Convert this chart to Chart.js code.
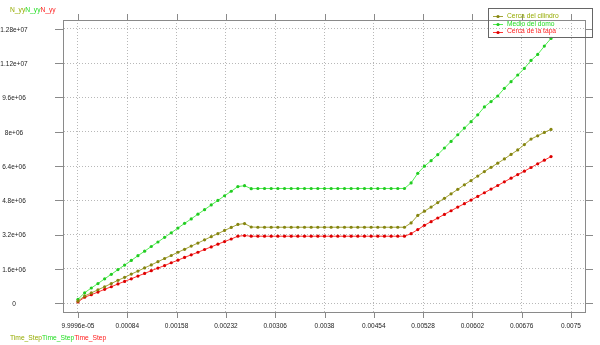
<!DOCTYPE html>
<html>
<head>
<meta charset="utf-8">
<script src="https://cdn.jsdelivr.net/npm/chart.js@4.4.1/dist/chart.umd.min.js"></script>
<style>
  html, body { margin: 0; padding: 0; background: #fff; }
  #wrap { width: 600px; height: 345px; }
</style>
</head>
<body>
<div id="wrap"><canvas id="chart" width="600" height="345"></canvas></div>
<script>
// time steps
const timeSteps = [
  0.0001, 0.0002, 0.0003, 0.0004, 0.0005, 0.0006, 0.0007, 0.0008, 0.0009, 0.0010,
  0.0011, 0.0012, 0.0013, 0.0014, 0.0015, 0.0016, 0.0017, 0.0018, 0.0019, 0.0020,
  0.0021, 0.0022, 0.0023, 0.0024, 0.0025, 0.0026, 0.0027, 0.0028, 0.0029, 0.0030,
  0.0031, 0.0032, 0.0033, 0.0034, 0.0035, 0.0036, 0.0037, 0.0038, 0.0039, 0.0040,
  0.0041, 0.0042, 0.0043, 0.0044, 0.0045, 0.0046, 0.0047, 0.0048, 0.0049, 0.0050,
  0.0051, 0.0052, 0.0053, 0.0054, 0.0055, 0.0056, 0.0057, 0.0058, 0.0059, 0.0060,
  0.0061, 0.0062, 0.0063, 0.0064, 0.0065, 0.0066, 0.0067, 0.0068, 0.0069, 0.0070,
  0.0071, 0.0072
];

// N_yy values, in millions
const cercaCilindro = [
  0.09, 0.33, 0.47, 0.62, 0.76, 0.91, 1.06, 1.20, 1.35, 1.49,
  1.64, 1.78, 1.93, 2.08, 2.22, 2.37, 2.51, 2.66, 2.80, 2.95,
  3.10, 3.24, 3.39, 3.53, 3.67, 3.71, 3.55, 3.54, 3.54, 3.54,
  3.54, 3.54, 3.54, 3.54, 3.54, 3.54, 3.54, 3.54, 3.54, 3.54,
  3.54, 3.54, 3.54, 3.54, 3.54, 3.54, 3.54, 3.54, 3.54, 3.54,
  3.74, 4.09, 4.29, 4.48, 4.69, 4.89, 5.10, 5.31, 5.52, 5.72,
  5.93, 6.14, 6.34, 6.53, 6.73, 6.94, 7.15, 7.40, 7.66, 7.81,
  7.97, 8.11
];
const medioDomo = [
  0.17, 0.48, 0.70, 0.91, 1.13, 1.34, 1.56, 1.77, 1.99, 2.21,
  2.42, 2.64, 2.85, 3.07, 3.28, 3.50, 3.72, 3.93, 4.15, 4.36,
  4.58, 4.79, 5.01, 5.22, 5.44, 5.48, 5.34, 5.35, 5.35, 5.35,
  5.35, 5.35, 5.35, 5.35, 5.35, 5.35, 5.35, 5.35, 5.35, 5.35,
  5.35, 5.35, 5.35, 5.35, 5.35, 5.35, 5.35, 5.35, 5.35, 5.35,
  5.61, 6.06, 6.39, 6.65, 6.93, 7.24, 7.55, 7.86, 8.17, 8.47,
  8.79, 9.16, 9.41, 9.67, 10.03, 10.34, 10.65, 10.96, 11.33, 11.61,
  12.00, 12.36
];
const cercaTapa = [
  0.05, 0.27, 0.39, 0.51, 0.64, 0.76, 0.89, 1.01, 1.13, 1.26,
  1.38, 1.51, 1.63, 1.75, 1.88, 2.00, 2.13, 2.25, 2.37, 2.50,
  2.62, 2.75, 2.87, 2.99, 3.12, 3.15, 3.12, 3.12, 3.12, 3.12,
  3.12, 3.12, 3.12, 3.12, 3.12, 3.12, 3.12, 3.12, 3.12, 3.12,
  3.12, 3.12, 3.12, 3.12, 3.12, 3.12, 3.12, 3.12, 3.12, 3.12,
  3.24, 3.43, 3.63, 3.80, 3.97, 4.14, 4.31, 4.48, 4.64, 4.81,
  4.98, 5.15, 5.32, 5.49, 5.66, 5.83, 6.00, 6.16, 6.33, 6.50,
  6.67, 6.84
];

const seriesNames = ['Cerca del cilindro', 'Medio del domo', 'Cerca de la tapa'];

const xTicks = [9.9996e-05, 0.00084, 0.00158, 0.00232, 0.00306, 0.0038, 0.00454, 0.00528, 0.00602, 0.00676, 0.0075];
const xLabels = ['9.9996e-05', '0.00084', '0.00158', '0.00232', '0.00306', '0.0038', '0.00454', '0.00528', '0.00602', '0.00676', '0.0075'];
const yTicks = [0, 1.6e6, 3.2e6, 4.8e6, 6.4e6, 8e6, 9.6e6, 1.12e7, 1.28e7];
const yLabels = ['0', '1.6e+06', '3.2e+06', '4.8e+06', '6.4e+06', '8e+06', '9.6e+06', '1.12e+07', '1.28e+07'];

const lineColors = ['#a3a33a', '#55ee55', '#ff3333'];
const pointColors = ['#858510', '#22cc22', '#dd0000'];
const textColors = ['#95ab00', '#22dd22', '#ff2020'];
const FONT = '6.7px "Liberation Sans", Arial, sans-serif';
const TICKFONT = '6.5px "Liberation Sans", Arial, sans-serif';

function toPoints(vals) {
  return timeSteps.map((t, i) => ({ x: t, y: vals[i] * 1e6 }));
}

const allSeries = [cercaCilindro, medioDomo, cercaTapa];

const framePlugin = {
  id: 'frame',
  afterDraw(chart) {
    const ctx = chart.ctx;
    const a = chart.chartArea;
    const xs = chart.scales.x, ys = chart.scales.y;
    ctx.save();

    // frame
    ctx.strokeStyle = '#8a8a8a';
    ctx.lineWidth = 1;
    ctx.strokeRect(Math.round(a.left) - 0.5, Math.round(a.top) + 0.5, Math.round(a.right - a.left), Math.round(a.bottom - a.top));

    // tick marks
    ctx.beginPath();
    xTicks.forEach(v => {
      const px = Math.round(xs.getPixelForValue(v)) + 0.5;
      ctx.moveTo(px, a.bottom); ctx.lineTo(px, a.bottom + 6);
      ctx.moveTo(px, a.top); ctx.lineTo(px, a.top - 6);
    });
    yTicks.forEach(v => {
      const py = Math.round(ys.getPixelForValue(v)) + 0.5;
      ctx.moveTo(a.left, py); ctx.lineTo(a.left - 9, py);
      ctx.moveTo(a.right, py); ctx.lineTo(a.right + 7, py);
    });
    ctx.stroke();

    // tick labels
    ctx.fillStyle = '#222';
    ctx.font = TICKFONT;
    ctx.textAlign = 'center';
    ctx.textBaseline = 'middle';
    xTicks.forEach((v, i) => {
      ctx.fillText(xLabels[i], xs.getPixelForValue(v), 326);
    });
    yTicks.forEach((v, i) => {
      ctx.fillText(yLabels[i], 14, ys.getPixelForValue(v) + 1);
    });

    // axis titles, one piece per series
    ctx.font = FONT;
    ctx.textAlign = 'left';
    let tx = 10;
    textColors.forEach(c => {
      ctx.fillStyle = c;
      ctx.fillText('N_yy', tx, 10.5);
      tx += ctx.measureText('N_yy').width;
    });
    tx = 10;
    textColors.forEach(c => {
      ctx.fillStyle = c;
      ctx.fillText('Time_Step', tx, 338.5);
      tx += ctx.measureText('Time_Step').width;
    });

    // legend
    ctx.strokeStyle = '#666';
    ctx.strokeRect(488.5, 8.5, 104, 29);
    const rows = [15.7, 23.8, 31.6];
    seriesNames.forEach((name, i) => {
      const y = Math.round(rows[i]) + 0.5;
      ctx.strokeStyle = lineColors[i];
      ctx.beginPath();
      ctx.moveTo(493, y); ctx.lineTo(503, y);
      ctx.stroke();
      ctx.fillStyle = pointColors[i];
      ctx.beginPath();
      ctx.arc(498, y, 1.6, 0, Math.PI * 2);
      ctx.fill();
      ctx.fillStyle = textColors[i];
      ctx.fillText(name, 507, rows[i]);
    });

    ctx.restore();
  }
};

new Chart(document.getElementById('chart'), {
  type: 'line',
  data: {
    datasets: allSeries.map((vals, i) => ({
      label: seriesNames[i],
      data: toPoints(vals),
      borderColor: lineColors[i],
      backgroundColor: pointColors[i],
      pointBackgroundColor: pointColors[i],
      pointBorderWidth: 0,
      pointRadius: 1.6,
      borderWidth: 1,
      tension: 0,
      fill: false
    }))
  },
  options: {
    responsive: false,
    devicePixelRatio: 1,
    animation: false,
    layout: { padding: { top: 20, right: 14, left: 0, bottom: 0 } },
    plugins: { legend: { display: false }, tooltip: { enabled: false } },
    scales: {
      x: {
        type: 'linear',
        min: -0.00011,
        max: 0.007725,
        afterBuildTicks: axis => { axis.ticks = xTicks.map(v => ({ value: v })); },
        afterFit: axis => { axis.height = 33; },
        ticks: { display: false },
        grid: { color: '#b8b8b8', drawTicks: false },
        border: { display: false, dash: [1, 2] }
      },
      y: {
        min: -0.42e6,
        max: 13.22e6,
        afterBuildTicks: axis => { axis.ticks = yTicks.map(v => ({ value: v })); },
        afterFit: axis => { axis.width = 64; },
        ticks: { display: false },
        grid: { color: '#b8b8b8', drawTicks: false },
        border: { display: false, dash: [1, 2] }
      }
    }
  },
  plugins: [framePlugin]
});
</script>
</body>
</html>
